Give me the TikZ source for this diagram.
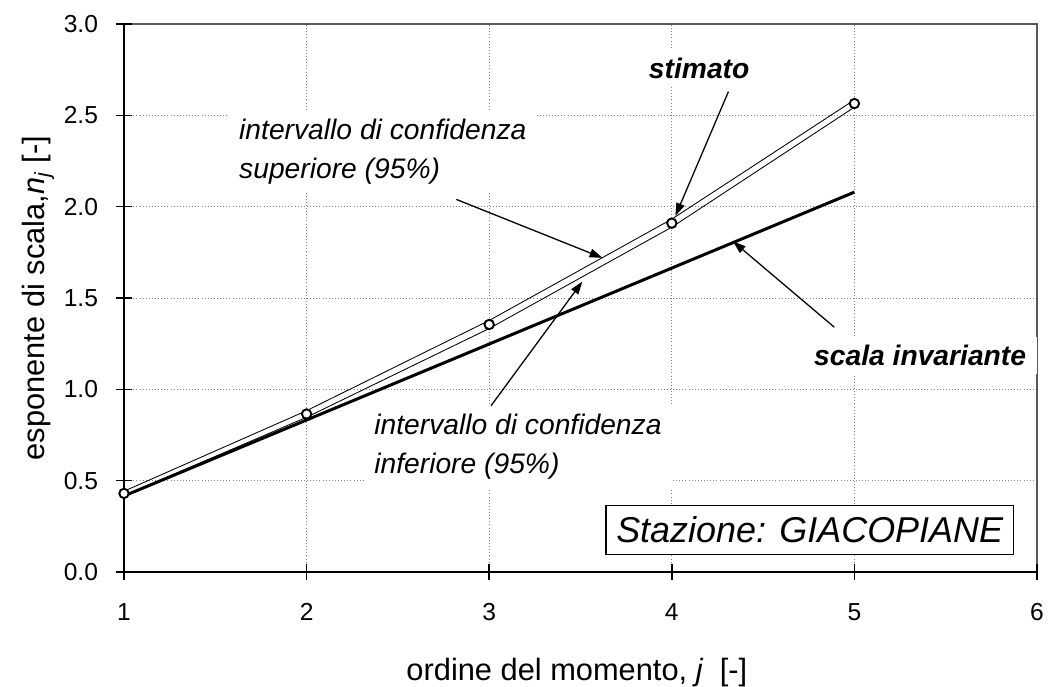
\documentclass[tikz,border=0pt]{standalone}
\usepackage{fontspec}
\setmainfont{Liberation Sans}
\usetikzlibrary{arrows.meta}

\tikzset{
  gridline/.style={gray, densely dotted, line width=0.45pt},
  frameline/.style={gray!70!black, line width=0.8pt},
  axisline/.style={black, line width=0.7pt},
  boundline/.style={black, line width=0.4pt},
  invline/.style={black, line width=1.4pt},
  point/.style={circle, draw, fill=white, line width=0.9pt, inner sep=0pt, minimum size=4.4pt},
  note/.style={fill=white, align=left, inner xsep=5pt, inner ysep=4pt, font=\fontsize{13.2}{18.3}\selectfont\itshape},
  notebf/.style={note, font=\fontsize{13.2}{16}\selectfont\bfseries\itshape},
  pointer/.style={-{Triangle[length=6pt,width=4pt]}, line width=0.6pt},
  ticklabel/.style={font=\fontsize{11.5}{13}\selectfont},
  axistitle/.style={font=\fontsize{14.4}{16}\selectfont},
}

\begin{document}
\begin{tikzpicture}[x=3cm, y=3cm]
\useasboundingbox (0.321,-0.626) rectangle (6.093,3.132);

% grid and frame
\foreach \x in {2,...,5} \draw[gridline] (\x,0) -- (\x,3);
\foreach \y in {0.5,1.0,1.5,2.0,2.5} \draw[gridline] (1,\y) -- (6,\y);
\draw[frameline] (1,3) -- (6,3) -- (6,0);
\draw[axisline] (1,3) -- (1,0) -- (6,0);

% ticks
\foreach \x in {1,...,6} {
  \draw[axisline] (\x,-0.044) -- (\x,0.044);
  \node[ticklabel] (xt\x) at (\x,-0.22) {\x};
}
\foreach \y in {0.0,0.5,1.0,1.5,2.0,2.5,3.0} {
  \draw[axisline] (0.956,\y) -- (1.044,\y);
  \node[ticklabel, anchor=east, inner sep=0pt] at (0.86,\y) {\y};
}

\node[axistitle] (xtitle) at (3.48,-0.55) {ordine del momento, {\itshape j}\ \ [-]};
\node[axistitle, rotate=90] (ytitle) at (0.53,1.5) {esponente di scala,{\itshape n}\textsubscript{\itshape j} [-]};

% labels
\node[note, anchor=west] (upper) at (1.57,2.30) {intervallo di confidenza\\superiore (95\%)};
\node[note, anchor=west] (lower) at (2.31,0.685) {intervallo di confidenza\\inferiore (95\%)};
\node[notebf] (est) at (4.15,2.76) {stimato};
\node[notebf] (inv) at (5.36,1.185) {scala invariante};
\node[draw, line width=0.7pt, fill=white, inner sep=0pt, minimum width=6.69cm, minimum height=0.81cm,
  font=\fontsize{16.8}{18}\selectfont\itshape] (station) at (4.755,0.23) {Stazione: GIACOPIANE};

% data: estimate with 95% bounds, scale invariant line
\foreach \j/\n/\d in {1/0.43/0.012, 2/0.865/0.018, 3/1.355/0.022, 4/1.91/0.022, 5/2.565/0.02} {
  \coordinate (up\j) at (\j,{\n+\d});
  \coordinate (lo\j) at (\j,{\n-\d});
  \coordinate (est\j) at (\j,\n);
}
\coordinate (inv1) at (1,0.416);
\coordinate (inv5) at (5,2.08);
\draw[invline] (inv1) -- (inv5);
\draw[boundline] (up1) -- (up2) -- (up3) -- (up4) -- (up5);
\draw[boundline] (lo1) -- (lo2) -- (lo3) -- (lo4) -- (lo5);
\foreach \j in {1,...,5} \node[point] (p\j) at (est\j) {};

% pointers
\coordinate (estFrom) at (4.31,2.63);
\coordinate (estTo) at (4.02,1.95);
\coordinate (upFrom) at (2.82,2.04);
\coordinate (upTo) at (3.62,1.72);
\coordinate (loFrom) at (3.01,0.91);
\coordinate (loTo) at (3.51,1.59);
\coordinate (invFrom) at (4.89,1.34);
\coordinate (invTo) at (4.335,1.81);
\draw[pointer] (estFrom) -- (estTo);
\draw[pointer] (upFrom) -- (upTo);
\draw[pointer] (loFrom) -- (loTo);
\draw[pointer] (invFrom) -- (invTo);
\end{tikzpicture}
\end{document}
